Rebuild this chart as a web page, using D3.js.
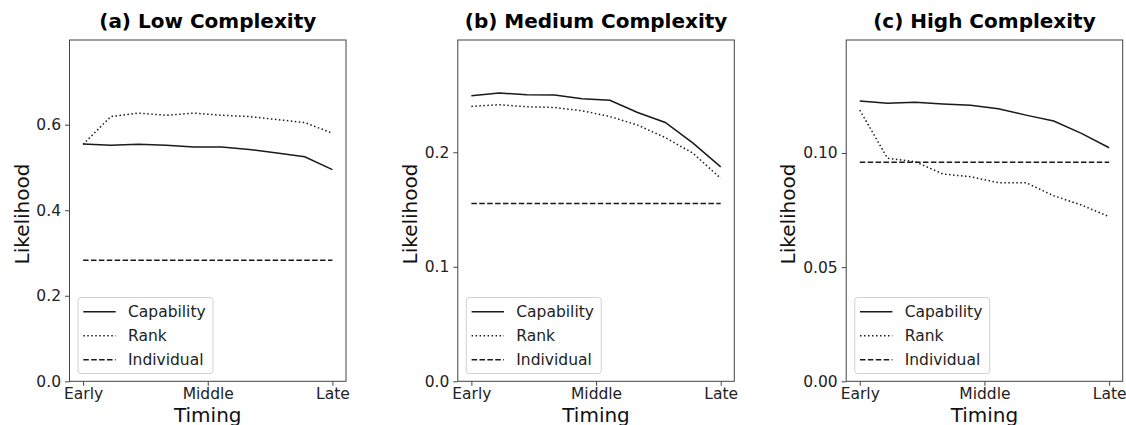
<!doctype html>
<html lang="en">
  <head>
    <meta charset="utf-8">
    <title>likelihood by timing</title>
    <style>
      body { margin: 0; background: #fff; }
      svg { font-family: "DejaVu Sans", sans-serif; }
      .axis line { stroke: #444; }
      .axis path { display: none; }
      .frame { fill: none; stroke: #444; stroke-width: 1; }
      .title { font-size: 20px; font-weight: bold; fill: #000; }
      .label { font-size: 20px; fill: #111; }
      .legend text { font-size: 15.5px; fill: #222; }
    </style>
  </head>
  <body>
    <svg class="chart" width="1126" height="425"></svg>
  <script src="https://d3js.org/d3.v7.min.js"></script>
  <script>
    // x positions (10 time steps) and tick labels
    const steps = [0, 1, 2, 3, 4, 5, 6, 7, 8, 9];
    const timingTicks = [0, 4.5, 9];
    const timingLabels = ['Early', 'Middle', 'Late'];

    const titles = ['(a) Low Complexity', '(b) Medium Complexity', '(c) High Complexity'];
    const seriesNames = ['Capability', 'Rank', 'Individual'];

    // (a) low complexity
    const lowCapability = [0.555, 0.552, 0.554, 0.552, 0.548, 0.548, 0.542, 0.534, 0.525, 0.495];
    const lowRank       = [0.554, 0.619, 0.627, 0.622, 0.627, 0.622, 0.619, 0.612, 0.605, 0.580];
    const lowIndividual = [0.283, 0.283, 0.283, 0.283, 0.283, 0.283, 0.283, 0.283, 0.283, 0.283];

    // (b) medium complexity
    const medCapability = [0.2494, 0.2517, 0.2502, 0.2499, 0.2467, 0.2453, 0.2347, 0.2260, 0.2079, 0.1872];
    const medRank       = [0.2400, 0.2415, 0.2397, 0.2391, 0.2362, 0.2312, 0.2237, 0.2128, 0.1991, 0.1772];
    const medIndividual = [0.1553, 0.1553, 0.1553, 0.1553, 0.1553, 0.1553, 0.1553, 0.1553, 0.1553, 0.1553];

    // (c) high complexity
    const highCapability = [0.1228, 0.1218, 0.1222, 0.1215, 0.1209, 0.1194, 0.1166, 0.1140, 0.1086, 0.1023];
    const highRank       = [0.1188, 0.0977, 0.0962, 0.0908, 0.0896, 0.0870, 0.0870, 0.0813, 0.0772, 0.0721];
    const highIndividual = [0.0959, 0.0959, 0.0959, 0.0959, 0.0959, 0.0959, 0.0959, 0.0959, 0.0959, 0.0959];

    const yTop = [0.798, 0.298, 0.1495];
    const yTickValues = [[0, 0.2, 0.4, 0.6], [0, 0.1, 0.2], [0, 0.05, 0.1]];
    const yTickFormats = ['.1f', '.1f', '.2f'];

    const panelData = [
      [lowCapability, lowRank, lowIndividual],
      [medCapability, medRank, medIndividual],
      [highCapability, highRank, highIndividual],
    ];

    // layout
    const panelLeft = [69.5, 457.8, 846.2];
    const panelWidth = 276.5;
    const plotTop = 40;
    const plotBottom = 381.3;
    const ylabelOffset = [41, 41, 51];
    const dashes = [null, '1.5,2.5', '5.5,2.4'];
    const lineColor = '#1a1a1a';

    const svg = d3.select('.chart');

    function styleAxis(axisG) {
      axisG.attr('font-family', '"DejaVu Sans", sans-serif')
          .attr('font-size', 15.5);
      axisG.selectAll('text').attr('fill', '#222');
    }

    panelData.forEach((series, p) => {
      const x0 = panelLeft[p];
      const x = d3.scaleLinear()
          .domain([-0.49, 9.49])
          .range([x0, x0 + panelWidth]);
      const y = d3.scaleLinear()
          .domain([0, yTop[p]])
          .range([plotBottom, plotTop]);

      const g = svg.append('g').attr('class', 'panel');

      g.append('g')
          .attr('class', 'axis axis--y')
          .attr('transform', `translate(${x0},0)`)
          .call(d3.axisLeft(y)
            .tickValues(yTickValues[p])
            .tickFormat(d3.format(yTickFormats[p]))
            .tickSize(4.5)
            .tickPadding(4))
          .call(styleAxis);

      g.append('g')
          .attr('class', 'axis axis--x')
          .attr('transform', `translate(0,${plotBottom})`)
          .call(d3.axisBottom(x)
            .tickValues(timingTicks)
            .tickFormat((d, i) => timingLabels[i])
            .tickSize(4.5)
            .tickPadding(2))
          .call(styleAxis);

      const line = d3.line()
          .x((d, i) => x(steps[i]))
          .y(d => y(d));

      series.forEach((vals, s) => {
        g.append('path')
            .datum(vals)
            .attr('fill', 'none')
            .attr('stroke', lineColor)
            .attr('stroke-width', 1.5)
            .attr('stroke-dasharray', dashes[s])
            .attr('d', line);
      });

      g.append('rect')
          .attr('class', 'frame')
          .attr('x', x0)
          .attr('y', plotTop)
          .attr('width', panelWidth)
          .attr('height', plotBottom - plotTop);

      // title
      g.append('text')
          .attr('class', 'title')
          .attr('x', x0 + panelWidth / 2)
          .attr('y', 27.5)
          .attr('text-anchor', 'middle')
          .text(titles[p]);

      // axis labels
      g.append('text')
          .attr('class', 'label')
          .attr('x', x0 + panelWidth / 2)
          .attr('y', 421.5)
          .attr('text-anchor', 'middle')
          .text('Timing');

      g.append('text')
          .attr('class', 'label')
          .attr('transform', `translate(${x0 - ylabelOffset[p]},214) rotate(-90)`)
          .attr('text-anchor', 'middle')
          .text('Likelihood');

      // legend
      const lg = g.append('g')
          .attr('class', 'legend')
          .attr('transform', `translate(${x0 + 8.5},297.5)`);
      lg.append('rect')
          .attr('width', 135)
          .attr('height', 76)
          .attr('rx', 3)
          .attr('fill', '#fff')
          .attr('fill-opacity', 0.8)
          .attr('stroke', '#d0d0d0');

      seriesNames.forEach((name, s) => {
        const ly = 14.3 + s * 24;
        lg.append('line')
            .attr('x1', 5.3)
            .attr('x2', 37.7)
            .attr('y1', ly)
            .attr('y2', ly)
            .attr('stroke', lineColor)
            .attr('stroke-width', 1.5)
            .attr('stroke-dasharray', dashes[s]);
        lg.append('text')
            .attr('x', 50)
            .attr('y', ly + 5.5)
            .text(name);
      });
    });
  </script>
  </body>
</html>
